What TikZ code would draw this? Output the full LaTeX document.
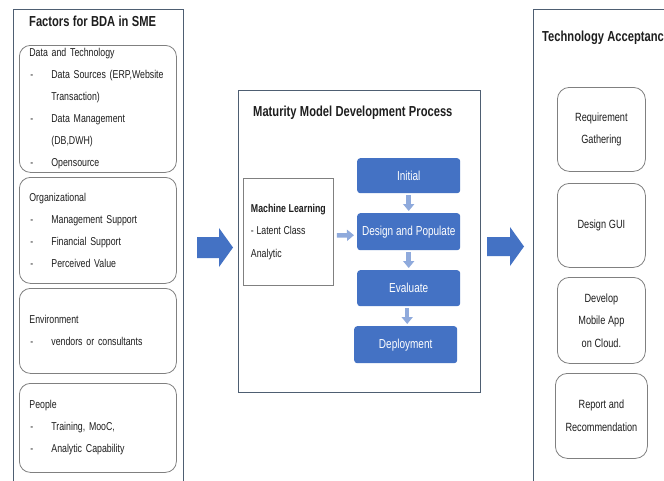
\documentclass[tikz,border=0pt]{standalone}
\usepackage{fontspec}
\setmainfont{Liberation Sans}[FakeStretch=0.77]
\usetikzlibrary{arrows.meta,calc}
\definecolor{framecol}{RGB}{78,94,114}
\definecolor{boxcol}{RGB}{128,128,128}
\definecolor{txtcol}{RGB}{30,30,30}
\definecolor{bblue}{RGB}{68,114,196}
\definecolor{lblue}{RGB}{143,170,220}
\newcommand{\itm}[1]{\hspace*{1pt}\makebox[21pt][l]{-}\mbox{#1}}
\newcommand{\cont}[1]{\hspace*{22pt}\mbox{#1}}
\newcommand{\tightsp}{\spaceskip=0.23em plus 0.1em minus 0.05em\relax}
\begin{document}
\begin{tikzpicture}[x=1pt,y=-1pt,
  every node/.style={text=txtcol, inner sep=0pt},
  outerbox/.style={draw=framecol, line width=1.1pt, anchor=north west},
  titletxt/.style={anchor=west, font=\bfseries\fontsize{14.5}{17}\selectfont\tightsp},
  factorbox/.style={draw=boxcol, line width=0.8pt, rounded corners=11pt, anchor=north west,
    minimum width=157pt, text width=137pt, inner xsep=10pt, align=left,
    font=\fontsize{11.4}{22}\selectfont\tightsp},
  tambox/.style={draw=boxcol, line width=0.8pt, rounded corners=12pt, anchor=north west,
    minimum width=88pt, minimum height=84pt, align=center,
    font=\fontsize{11.9}{22.5}\selectfont\tightsp},
  mlbox/.style={draw=boxcol, line width=0.8pt, anchor=north west,
    minimum width=90pt, minimum height=107pt, align=left,
    font=\fontsize{11.4}{22.5}\selectfont\tightsp},
  stepbox/.style={fill=bblue, rounded corners=3pt, anchor=north west, text=white,
    minimum width=103pt, font=\fontsize{13}{15}\selectfont\tightsp},
  smallarrow/.style={draw=lblue, line width=4.5pt, -{Triangle[length=7pt,width=11pt]}},
  bigarrow/.style={fill=bblue}
]
\clip (0,0) rectangle (664,480);
\fill[white] (0,0) rectangle (664,480);

% outer frames
\node[outerbox, minimum width=170pt, minimum height=481pt] (factors) at (13,9) {};
\node[outerbox, minimum width=242pt, minimum height=302pt] (mmdp) at (238,90) {};
\node[outerbox, minimum width=150pt, minimum height=481pt] (tam) at (533,9) {};

% titles
\node[titletxt] (factorstitle) at (29,21) {Factors for BDA in SME};
\node[titletxt] (mmdptitle) at (253,113) {Maturity Model Development Process};
\node[titletxt] (tamtitle) at (542,38) {Technology Acceptanc};

% factor boxes
\node[factorbox, minimum height=127pt] (datatech) at (19,45)
  {Data and Technology\\ \itm{Data Sources (ERP,Website}\\ \cont{Transaction)}\\
   \itm{Data Management}\\ \cont{(DB,DWH)}\\ \itm{Opensource}};
\node[factorbox, minimum height=106pt] (org) at (19,177)
  {Organizational\\ \itm{Management Support}\\ \itm{Financial Support}\\ \itm{Perceived Value}};
\node[factorbox, minimum height=85pt] (env) at (19,288)
  {Environment\\ \itm{vendors or consultants}};
\node[factorbox, minimum height=89pt] (people) at (19,383)
  {People\\ \itm{Training, MooC,}\\ \itm{Analytic Capability}};

% maturity model
\node[mlbox] (ml) at (243,178)
  {\textbf{Machine Learning}\\ - Latent Class\\ Analytic};
\node[stepbox, minimum height=35pt] (init) at (357,158) {Initial};
\node[stepbox, minimum height=37pt] (dp) at (357,213) {Design and Populate};
\node[stepbox, minimum height=36pt] (eval) at (357,270) {Evaluate};
\node[stepbox, minimum height=37pt] (deploy) at (354,326) {Deployment};

\draw[smallarrow] ($(ml.east)+(3,3.5)$) -- ($(dp.west)+(-3,3.5)$);
\draw[smallarrow, shorten <=2pt, shorten >=2pt] (init.south) -- (dp.north);
\draw[smallarrow, shorten <=2pt, shorten >=2pt] (dp.south) -- (eval.north);
\draw[smallarrow, shorten <=2pt, shorten >=2pt] ([xshift=-1.5pt]eval.south) -- ([xshift=-1.5pt]eval.south |- deploy.north);

% TAM boxes
\node[tambox] (req) at (557,87) {Requirement\\ Gathering};
\node[tambox] (gui) at (557,183) {Design GUI};
\node[tambox, minimum height=86pt] (dev) at (557,277) {Develop\\ Mobile App\\ on Cloud.};
\node[tambox, minimum width=92pt, minimum height=85pt] (report) at (555,373) {Report and\\ Recommendation};

% big block arrows
\coordinate (a1) at (197,237);
\coordinate (a2) at (487,237);
\fill[bigarrow] (a1) -- ++(22,0) -- ++(0,-9) -- ++(14,19.5) -- ++(-14,19.5) -- ++(0,-9) -- ++(-22,0) -- cycle;
\fill[bigarrow] (a2) -- ++(23,0) -- ++(0,-10) -- ++(14,19.5) -- ++(-14,19.5) -- ++(0,-10) -- ++(-23,0) -- cycle;
\end{tikzpicture}
\end{document}
